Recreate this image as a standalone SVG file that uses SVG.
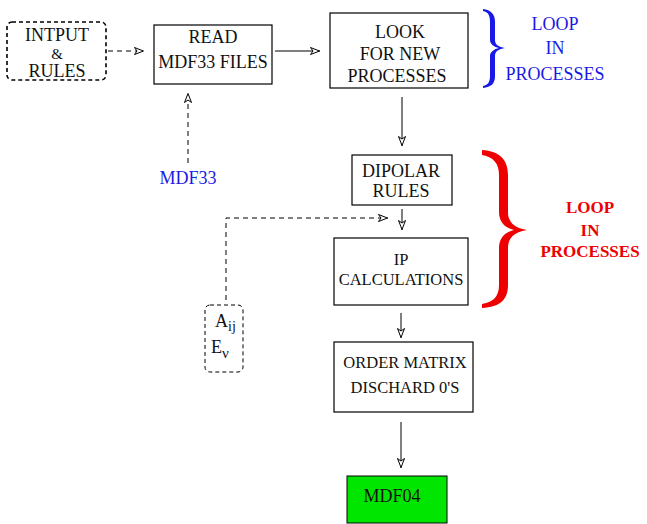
<svg xmlns="http://www.w3.org/2000/svg" width="647" height="524" viewBox="0 0 647 524">
<defs>
<marker id="ah" viewBox="0 0 10 8" refX="10" refY="4" markerWidth="10" markerHeight="8" markerUnits="userSpaceOnUse" orient="auto">
<path d="M0.5,0.5 L9.5,4 L0.5,7.5 L3,4 Z" fill="#fff" stroke="#000" stroke-width="1"/>
</marker>
</defs>
<style>
.box{fill:#fff;stroke:#000;stroke-width:1.2}
.t{font-family:"Liberation Serif","Times New Roman",serif;font-size:18px;fill:#111;text-anchor:middle}
.s{font-size:16.5px}
.blue{fill:#1a1ae6}
.red{fill:#ee0000;font-weight:bold;font-size:17px}
.c{fill:none;stroke:#000;stroke-width:1}
.d{stroke-dasharray:5,4}
</style>
<rect width="647" height="524" fill="#fff"/>
<g id="connectors">
<path class="c d" d="M108,51 L144,51" marker-end="url(#ah)"/>
<path class="c" d="M275,51 L320,51" marker-end="url(#ah)"/>
<path class="c d" d="M188,163 L188,93" marker-end="url(#ah)"/>
<path class="c" d="M402,97 L402,146" marker-end="url(#ah)"/>
<path class="c" d="M402,209 L402,230" marker-end="url(#ah)"/>
<path class="c d" d="M226,300 L226,218 L388,218" marker-end="url(#ah)"/>
<path class="c" d="M401,313 L401,338" marker-end="url(#ah)"/>
<path class="c" d="M401,422 L401,468" marker-end="url(#ah)"/>
</g>
<g id="input">
<rect x="7" y="22" width="99" height="58" rx="5" fill="#fff" stroke="#000" stroke-width="1.6" stroke-dasharray="4,3"/>
<text class="t" x="57" y="41">INTPUT</text>
<text class="t" x="57" y="59" style="font-size:15px">&amp;</text>
<text class="t" x="57" y="77">RULES</text>
</g>
<g id="read">
<rect class="box" x="154" y="25" width="118" height="59"/>
<text class="t" x="213" y="43">READ</text>
<text class="t" x="213" y="68">MDF33 FILES</text>
</g>
<g id="look">
<rect class="box" x="330" y="13" width="138" height="75"/>
<text class="t" x="400" y="38">LOOK</text>
<text class="t" x="400" y="60">FOR NEW</text>
<text class="t" x="397" y="82">PROCESSES</text>
</g>
<g id="loop1">
<path fill="#1a1ae6" d="M483,9 C491,10 495,14 495,22 L495,40 C495,45 499,47 505,48 C499,49 495,51 495,56 L495,76 C495,84 491,87 483,88 L483,86 C488,85 490,82 490,76 L490,56 C490,52 494,49 499,48 C494,47 490,44 490,40 L490,22 C490,15 488,12 483,11 Z"/>
<text class="t blue" x="555" y="30">LOOP</text>
<text class="t blue" x="555" y="54">IN</text>
<text class="t blue" x="555" y="80">PROCESSES</text>
</g>
<g id="mdf33">
<text class="t blue" x="188" y="184">MDF33</text>
</g>
<g id="dipolar">
<rect class="box" x="352" y="155" width="100" height="50"/>
<text class="t" x="401" y="177">DIPOLAR</text>
<text class="t" x="401" y="197">RULES</text>
</g>
<g id="loop2">
<path fill="#ee0000" d="M482,150 C500,151 508,160 508,175 L508,212 C508,222 514,228 527,230 C514,232 508,238 508,248 L508,285 C508,300 500,307 482,308 L482,304 C494,302 499,296 499,285 L499,248 C499,238 505,232 514,230 C505,228 499,222 499,212 L499,175 C499,164 494,157 482,155 Z"/>
<text class="t red" x="590" y="213">LOOP</text>
<text class="t red" x="590" y="236">IN</text>
<text class="t red" x="590" y="257">PROCESSES</text>
</g>
<g id="ip">
<rect class="box" x="334" y="238" width="134" height="67"/>
<text class="t s" x="401" y="265">IP</text>
<text class="t s" x="401" y="285">CALCULATIONS</text>
</g>
<g id="aij">
<rect x="205" y="305" width="38" height="67" rx="5" fill="#fff" stroke="#000" stroke-width="1" stroke-dasharray="4,3"/>
<text class="t" x="215" y="327" style="text-anchor:start">A<tspan font-size="14" dy="4">ij</tspan></text>
<text class="t" x="211" y="353" style="text-anchor:start">E<tspan font-size="15" dy="5">ν</tspan></text>
</g>
<g id="order">
<rect class="box" x="334" y="342" width="139" height="70"/>
<text class="t s" x="405" y="368">ORDER MATRIX</text>
<text class="t s" x="405" y="393">DISCHARD 0'S</text>
</g>
<g id="mdf04">
<rect x="347" y="476" width="100" height="47" fill="#00e600" stroke="#000" stroke-width="1"/>
<text class="t" x="392" y="502">MDF04</text>
</g>
</svg>
